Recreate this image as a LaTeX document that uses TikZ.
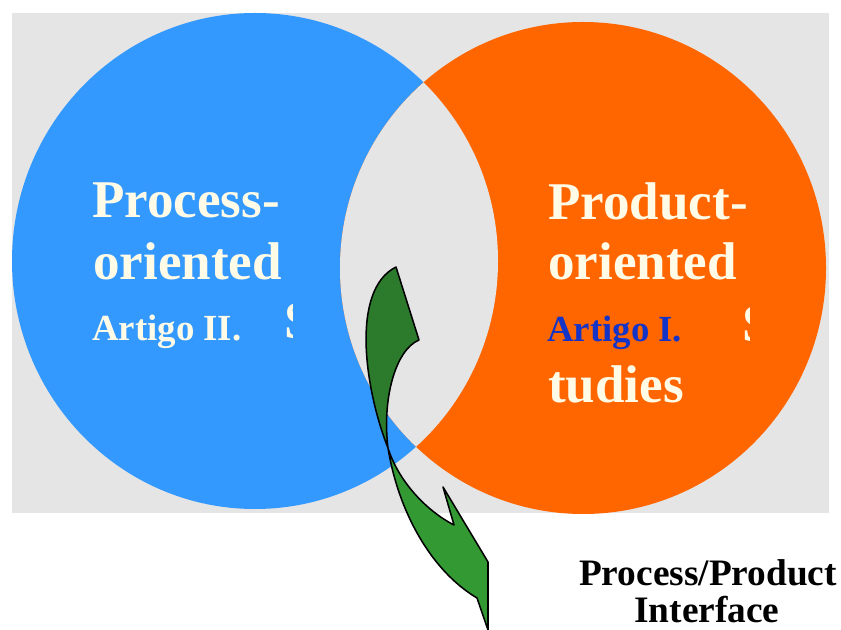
\documentclass[tikz,border=0pt]{standalone}
\usepackage{fontspec}
\setmainfont{Liberation Serif}
\usepackage{xcolor}
\usepackage{tikz}
\definecolor{processblue}{RGB}{51,153,255}
\definecolor{productorange}{RGB}{255,102,0}
\definecolor{lensgrey}{RGB}{229,229,229}
\definecolor{creamtext}{RGB}{255,251,230}
\definecolor{artigoblue}{RGB}{20,52,200}
\definecolor{arrowdark}{RGB}{44,122,44}
\definecolor{arrowlight}{RGB}{51,153,51}

\begin{document}
\begin{tikzpicture}[x=0.75pt,y=-0.75pt,
  title/.style={inner sep=0pt,anchor=base west,text=creamtext,font=\fontsize{39.8}{46}\selectfont\bfseries},
  artigo/.style={inner sep=0pt,anchor=base west,font=\fontsize{27.6}{32}\selectfont\bfseries},
  caption/.style={inner sep=0pt,anchor=base,font=\fontsize{28}{32}\selectfont\bfseries},
  ribbon/.style={draw=black,line width=1.15pt,line join=round}]
\useasboundingbox (0,0) rectangle (841,630);

% background and the two sets
\fill[lensgrey] (12,13) rectangle (829,513);
\begin{scope}
\clip (12,13) rectangle (829,513);
\fill[processblue] (255,261) ellipse [x radius=182.25pt, y radius=186pt];
\fill[productorange] (583,268) ellipse [x radius=182.25pt, y radius=184.5pt];
\clip (255,261) ellipse [x radius=182.25pt, y radius=186pt];
\fill[lensgrey] (583,268) ellipse [x radius=182.25pt, y radius=184.5pt];
\end{scope}

\node[title] (proc1) at (92,218) {Process-};
\node[title] (proc2) at (93,280) {oriented};
\node[artigo,text=creamtext] (art2) at (92,340) {Artigo II.};
\begin{scope}
\clip (283,295) rectangle (292,350);
\node[title] (procS) at (284,339) {S};
\end{scope}

\node[title] (prod1) at (548,220) {Product-};
\node[title] (prod2) at (548,280) {oriented};
\node[artigo,text=artigoblue] (art1) at (547,342) {Artigo I.};
\begin{scope}
\clip (741,298) rectangle (749,352);
\node[title] (prodS) at (742,342) {S};
\end{scope}
\node[title] (prod3) at (548,402) {tudies};

% twisted arrow: front strip first, back strip on top
\draw[ribbon,fill=arrowlight] (388,448) .. controls (398,480) and (425,510) .. (454,525)
  -- (443,487) -- (488,562) -- (488,630) -- (477,598)
  .. controls (430,570) and (398,510) .. (388,448) -- cycle;
\draw[ribbon,fill=arrowdark] (396,267) -- (419,340)
  .. controls (395,350) and (382,400) .. (388,448)
  .. controls (365,390) and (350,290) .. (396,267) -- cycle;

\node[caption] (cap1) at (708,585) {Process/Product};
\node[caption] (cap2) at (707,622) {Interface};
\end{tikzpicture}
\end{document}
